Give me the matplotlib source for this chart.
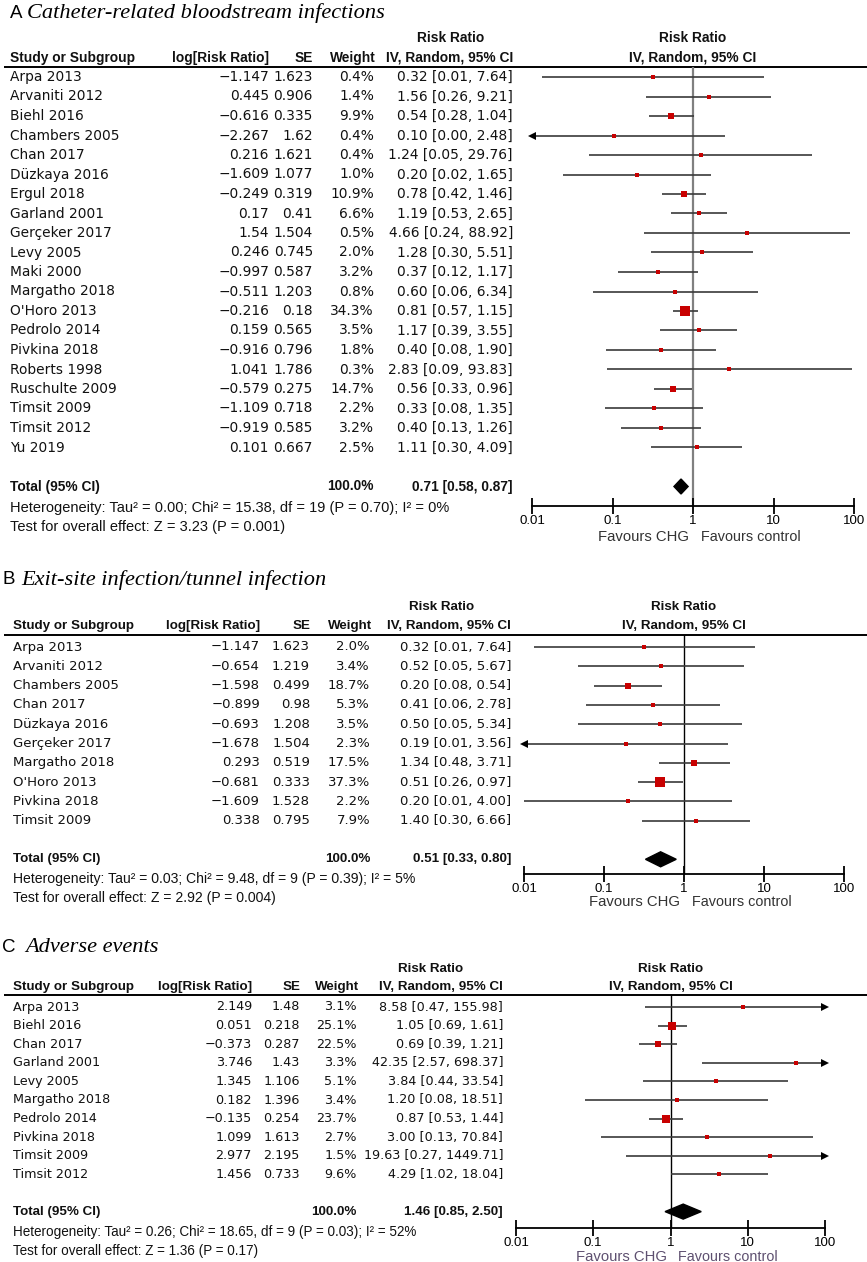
import numpy as np
import matplotlib
matplotlib.use("Agg")
import matplotlib.pyplot as plt
from matplotlib.patches import Polygon
from matplotlib.ticker import NullLocator

plt.rcParams['font.family'] = ['Liberation Sans', 'DejaVu Sans']

# ---------------- data ----------------
A_title = "Catheter-related bloodstream infections"
A_studies = ["Arpa 2013", "Arvaniti 2012", "Biehl 2016", "Chambers 2005", "Chan 2017",
             "Düzkaya 2016", "Ergul 2018", "Garland 2001", "Gerçeker 2017", "Levy 2005",
             "Maki 2000", "Margatho 2018", "O'Horo 2013", "Pedrolo 2014", "Pivkina 2018",
             "Roberts 1998", "Ruschulte 2009", "Timsit 2009", "Timsit 2012", "Yu 2019"]
A_log = [-1.147, 0.445, -0.616, -2.267, 0.216, -1.609, -0.249, 0.17, 1.54, 0.246,
         -0.997, -0.511, -0.216, 0.159, -0.916, 1.041, -0.579, -1.109, -0.919, 0.101]
A_se = [1.623, 0.906, 0.335, 1.62, 1.621, 1.077, 0.319, 0.41, 1.504, 0.745,
        0.587, 1.203, 0.18, 0.565, 0.796, 1.786, 0.275, 0.718, 0.585, 0.667]
A_weight = [0.4, 1.4, 9.9, 0.4, 0.4, 1.0, 10.9, 6.6, 0.5, 2.0,
            3.2, 0.8, 34.3, 3.5, 1.8, 0.3, 14.7, 2.2, 3.2, 2.5]
A_rr = [0.32, 1.56, 0.54, 0.10, 1.24, 0.20, 0.78, 1.19, 4.66, 1.28,
        0.37, 0.60, 0.81, 1.17, 0.40, 2.83, 0.56, 0.33, 0.40, 1.11]
A_lo = [0.01, 0.26, 0.28, 0.00, 0.05, 0.02, 0.42, 0.53, 0.24, 0.30,
        0.12, 0.06, 0.57, 0.39, 0.08, 0.09, 0.33, 0.08, 0.13, 0.30]
A_hi = [7.64, 9.21, 1.04, 2.48, 29.76, 1.65, 1.46, 2.65, 88.92, 5.51,
        1.17, 6.34, 1.15, 3.55, 1.90, 93.83, 0.96, 1.35, 1.26, 4.09]
A_total = [0.71, 0.58, 0.87]
A_total_weight = 100.0
A_het = "Heterogeneity: Tau² = 0.00; Chi² = 15.38, df = 19 (P = 0.70); I² = 0%"
A_test = "Test for overall effect: Z = 3.23 (P = 0.001)"

B_title = "Exit-site infection/tunnel infection"
B_studies = ["Arpa 2013", "Arvaniti 2012", "Chambers 2005", "Chan 2017", "Düzkaya 2016",
             "Gerçeker 2017", "Margatho 2018", "O'Horo 2013", "Pivkina 2018", "Timsit 2009"]
B_log = [-1.147, -0.654, -1.598, -0.899, -0.693, -1.678, 0.293, -0.681, -1.609, 0.338]
B_se = [1.623, 1.219, 0.499, 0.98, 1.208, 1.504, 0.519, 0.333, 1.528, 0.795]
B_weight = [2.0, 3.4, 18.7, 5.3, 3.5, 2.3, 17.5, 37.3, 2.2, 7.9]
B_rr = [0.32, 0.52, 0.20, 0.41, 0.50, 0.19, 1.34, 0.51, 0.20, 1.40]
B_lo = [0.01, 0.05, 0.08, 0.06, 0.05, 0.01, 0.48, 0.26, 0.01, 0.30]
B_hi = [7.64, 5.67, 0.54, 2.78, 5.34, 3.56, 3.71, 0.97, 4.00, 6.66]
B_total = [0.51, 0.33, 0.80]
B_total_weight = 100.0
B_het = "Heterogeneity: Tau² = 0.03; Chi² = 9.48, df = 9 (P = 0.39); I² = 5%"
B_test = "Test for overall effect: Z = 2.92 (P = 0.004)"

C_title = "Adverse events"
C_studies = ["Arpa 2013", "Biehl 2016", "Chan 2017", "Garland 2001", "Levy 2005",
             "Margatho 2018", "Pedrolo 2014", "Pivkina 2018", "Timsit 2009", "Timsit 2012"]
C_log = [2.149, 0.051, -0.373, 3.746, 1.345, 0.182, -0.135, 1.099, 2.977, 1.456]
C_se = [1.48, 0.218, 0.287, 1.43, 1.106, 1.396, 0.254, 1.613, 2.195, 0.733]
C_weight = [3.1, 25.1, 22.5, 3.3, 5.1, 3.4, 23.7, 2.7, 1.5, 9.6]
C_rr = [8.58, 1.05, 0.69, 42.35, 3.84, 1.20, 0.87, 3.00, 19.63, 4.29]
C_lo = [0.47, 0.69, 0.39, 2.57, 0.44, 0.08, 0.53, 0.13, 0.27, 1.02]
C_hi = [155.98, 1.61, 1.21, 698.37, 33.54, 18.51, 1.44, 70.84, 1449.71, 18.04]
C_total = [1.46, 0.85, 2.50]
C_total_weight = 100.0
C_het = "Heterogeneity: Tau² = 0.26; Chi² = 18.65, df = 9 (P = 0.03); I² = 52%"
C_test = "Test for overall effect: Z = 1.36 (P = 0.17)"

ticks = [0.01, 0.1, 1, 10, 100]
tick_labels = ["0.01", "0.1", "1", "10", "100"]

# ---------------- figure ----------------
W, H = 867, 1262
fig = plt.figure(figsize=(W / 100, H / 100), dpi=100)
canvas = fig.add_axes([0, 0, 1, 1])
canvas.set_xlim(0, W)
canvas.set_ylim(H, 0)
canvas.axis('off')

ROWFONT = ['DejaVu Sans']
FS = 9.9
FSB = 9.9
FSH = 10.5
TXT = '#111111'
RED = '#c80000'


def num(v):
    return str(v).replace('-', '\u2212')


def ci_text(r, l, h):
    return f"{r:.2f} [{l:.2f}, {h:.2f}]"


def panel(letter, title, studies, logs, ses, weights, rr, lo, hi, total, tw, het, test, L):
    n = len(studies)
    y0, dy = L['y0'], L['dy']
    k = L['k']
    kbf = max(k, 0.97)
    ys = [y0 + dy * i for i in range(n)]
    yt = y0 + dy * (n + 1)
    # title
    canvas.text(L['xl'], L['y_title'], letter, fontsize=13.5, va='center', ha='left', color='black')
    canvas.text(L['xt'], L['y_title'], title, fontsize=16.1, va='center', ha='left',
                family='Liberation Serif', style='italic', color='black')
    # headers
    kb = dict(fontsize=FSB * kbf, fontweight='bold', va='center', color=TXT)
    canvas.text(L['xrr'], L['y_rr'], "Risk Ratio", ha='center', **kb)
    canvas.text(L['xs'], L['y_hdr'], "Study or Subgroup", ha='left', **kb)
    canvas.text(L['xlog'], L['y_hdr'], "log[Risk Ratio]", ha='right', **kb)
    canvas.text(L['xse'], L['y_hdr'], "SE", ha='right', **kb)
    canvas.text(L['xw'] + 2, L['y_hdr'], "Weight", ha='right', **kb)
    canvas.text(L['xci'], L['y_hdr'], "IV, Random, 95% CI", ha='right', **kb)
    x1 = L['fx0'] + (L['fx1'] - L['fx0']) / 2
    canvas.text(x1, L['y_rr'], "Risk Ratio", ha='center', **kb)
    canvas.text(x1, L['y_hdr'], "IV, Random, 95% CI", ha='center', **kb)
    canvas.plot([4, W], [L['y_line'], L['y_line']], color='black', lw=1.4, solid_capstyle='butt')
    # rows
    kn = dict(fontsize=FS * k, va='center', color=TXT, family=ROWFONT)
    for i in range(n):
        canvas.text(L['xs'], ys[i], studies[i], ha='left', **kn)
        canvas.text(L['xlog'], ys[i], num(logs[i]), ha='right', **kn)
        canvas.text(L['xse'], ys[i], num(ses[i]), ha='right', **kn)
        canvas.text(L['xw'], ys[i], f"{weights[i]:.1f}%", ha='right', **kn)
        canvas.text(L['xci'], ys[i], ci_text(rr[i], lo[i], hi[i]), ha='right', **kn)
    canvas.text(L['xs'], yt, "Total (95% CI)", ha='left', **kb)
    canvas.text(L['xw'], yt, f"{tw:.1f}%", ha='right', **kb)
    canvas.text(L['xci'], yt, ci_text(*total), ha='right', **kb)
    canvas.text(L['xs'], L['y_het'], het, ha='left', fontsize=FSH * k, va='center', color=TXT)
    canvas.text(L['xs'], L['y_test'], test, ha='left', fontsize=FSH * k, va='center', color=TXT)

    # forest axes
    ax = fig.add_axes([L['fx0'] / W, 1 - L['y_axis'] / H,
                       (L['fx1'] - L['fx0']) / W, (L['y_axis'] - L['y_line']) / H])
    ax.set_xscale('log')
    ax.set_xlim(0.01, 100)
    ax.set_ylim((L['y_axis'] - y0) / dy, (L['y_line'] - y0) / dy)
    ax.patch.set_visible(False)
    for s in ['top', 'left', 'right']:
        ax.spines[s].set_visible(False)
    ax.spines['bottom'].set_linewidth(1.3)
    ax.set_yticks([])
    ax.set_xticks(ticks)
    ax.set_xticklabels(tick_labels)
    ax.xaxis.set_minor_locator(NullLocator())
    ax.tick_params(axis='x', direction='inout', length=11, width=1.3, labelsize=9.5, pad=1,
                   colors='black')
    ax.axvline(1, color=L['vcol'], lw=L['vlw'], zorder=1)

    lg = np.array(logs)
    se = np.array(ses)
    est = np.exp(lg)
    lo_ci = np.exp(lg - 1.96 * se)
    hi_ci = np.exp(lg + 1.96 * se)
    idx = np.arange(n)
    ax.hlines(idx, np.clip(lo_ci, 0.01, 100), np.clip(hi_ci, 0.01, 100),
              color='#3a3a3a', lw=1.2, zorder=2)
    for i in range(n):
        side = max(3.3, L['sq'] * np.sqrt(weights[i]))
        ax.plot(est[i], i, marker='s', ms=side * 0.72, color=RED, mec=RED, mew=0, zorder=3)
        if lo_ci[i] < 0.01:
            ax.plot(0.01, i, marker='<', ms=5.5, color='black', mew=0, zorder=3, clip_on=False)
        if hi_ci[i] > 100:
            ax.plot(100, i, marker='>', ms=5.5, color='black', mew=0, zorder=3, clip_on=False)
    t_est, t_lo, t_hi = total
    ti = n + 1
    h = 7.5 / dy
    ax.add_patch(Polygon([(t_lo, ti), (t_est, ti - h), (t_hi, ti), (t_est, ti + h)],
                         closed=True, color='black', zorder=4))
    canvas.text(x1 - 4, L['y_fav'], "Favours CHG", ha='right', va='center',
                fontsize=10.7, color=L['fcol'])
    canvas.text(x1 + 8, L['y_fav'], "Favours control", ha='left', va='center',
                fontsize=10.4, color=L['fcol'])


LA = dict(k=1.0, y_title=13, y_rr=38, y_hdr=58, y_line=67, y0=77, dy=19.5, y_het=508, y_test=527,
          y_axis=506, y_fav=537, xl=10, xt=27, xs=10, xlog=269, xse=313, xw=374, xci=513, xrr=451,
          fx0=532, fx1=854, vcol='#808080', vlw=1.6, fcol='#333333', sq=1.6)
LB = dict(k=0.96, y_title=580, y_rr=607, y_hdr=626, y_line=635, y0=647, dy=19.3, y_het=879,
          y_test=898, y_axis=874, y_fav=902, xl=2, xt=21, xs=13, xlog=260, xse=310, xw=370,
          xci=511, xrr=442, fx0=524, fx1=844, vcol='black', vlw=1.0, fcol='#333333', sq=1.55)
LC = dict(k=0.93, y_title=947, y_rr=969, y_hdr=987, y_line=995, y0=1007, dy=18.6, y_het=1232,
          y_test=1251, y_axis=1228, y_fav=1257, xl=2, xt=25, xs=13, xlog=252, xse=300, xw=357,
          xci=503, xrr=431, fx0=516, fx1=825, vcol='black', vlw=1.0, fcol='#5e5070', sq=1.45)

panel("A", A_title, A_studies, A_log, A_se, A_weight, A_rr, A_lo, A_hi, A_total, A_total_weight,
      A_het, A_test, LA)
panel("B", B_title, B_studies, B_log, B_se, B_weight, B_rr, B_lo, B_hi, B_total, B_total_weight,
      B_het, B_test, LB)
panel("C", C_title, C_studies, C_log, C_se, C_weight, C_rr, C_lo, C_hi, C_total, C_total_weight,
      C_het, C_test, LC)

fig.savefig("out.png", dpi=100)
